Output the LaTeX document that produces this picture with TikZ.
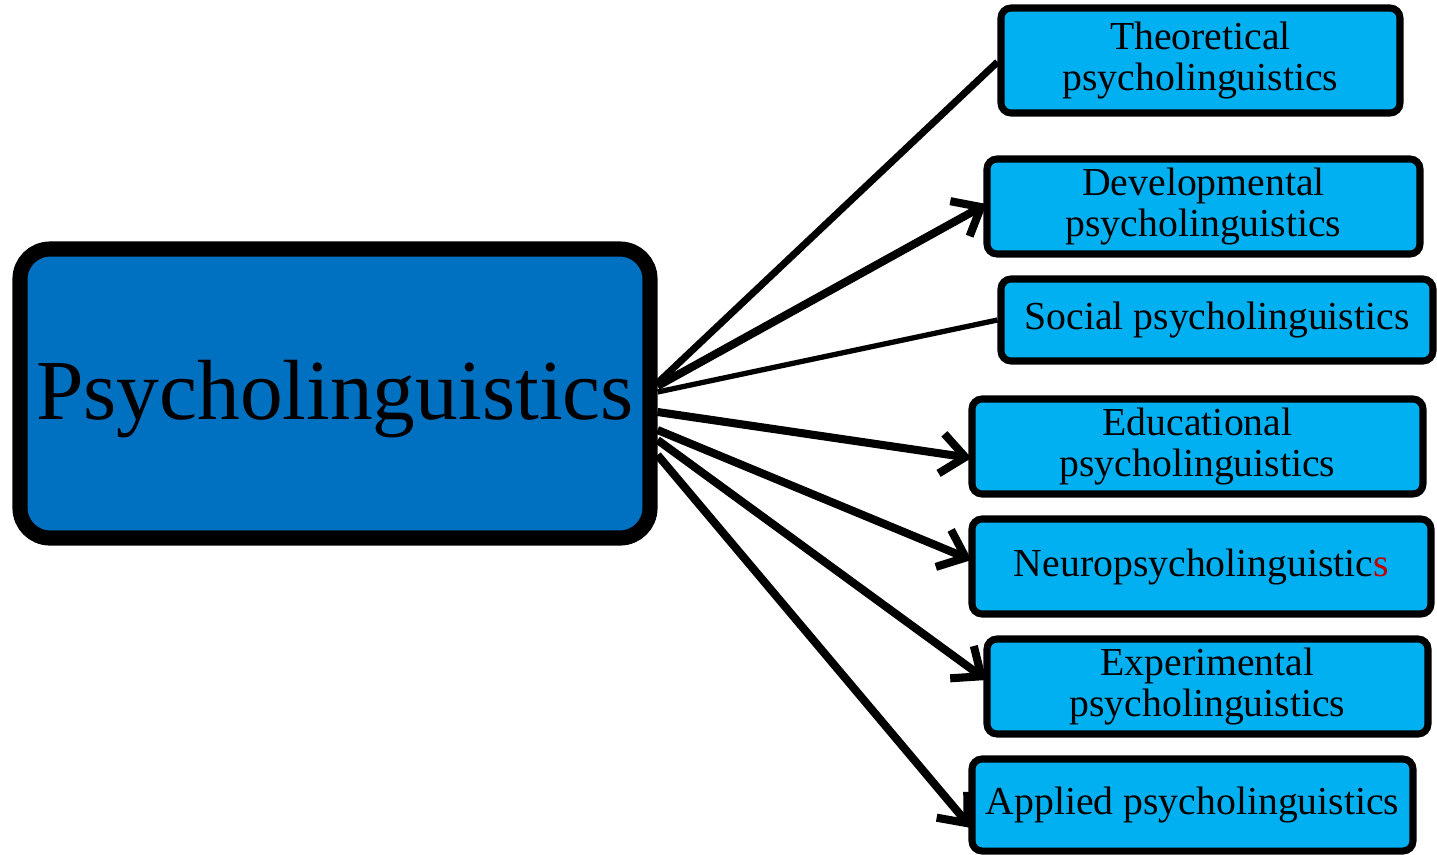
\documentclass[tikz,border=0pt]{standalone}
\usepackage{fontspec}
\setmainfont{Liberation Serif}
\usetikzlibrary{positioning,arrows.meta,calc}
\definecolor{rootblue}{HTML}{0070C0}
\definecolor{leafblue}{HTML}{00B0F0}
\definecolor{darkred}{HTML}{C00000}

\tikzset{
    root/.style={draw=black, fill=rootblue, line width=4.3pt, rounded corners=0.3cm,
        inner sep=0pt, text height=0.7cm, text depth=0.185cm, font=\fontsize{24.3}{26}\selectfont},
    leaf/.style={draw=black, fill=leafblue, line width=2pt, rounded corners=0.1cm,
        inner sep=0pt, align=center, font=\fontsize{11.3}{11.7}\selectfont},
    link/.style={line width=2.3pt, -{Straight Barb[length=0.24cm, width=0.4cm]}},
}

\begin{document}
\begin{tikzpicture}
    \useasboundingbox (0,0) rectangle (14.37,-8.54);

    % Root
    \node[root, minimum width=6.3cm, minimum height=2.89cm] (psy) at (3.35,-3.935) {Psycholinguistics};

    % Branches
    \node[leaf, minimum width=3.99cm, minimum height=1.05cm] (theo) at (12.005,-0.605) {Theoretical\\psycholinguistics};
    \node[leaf, minimum width=4.33cm, minimum height=0.95cm] (devel) at (12.035,-2.065) {Developmental\\psycholinguistics};
    \node[leaf, minimum width=4.32cm, minimum height=0.82cm] (social) at (12.17,-3.2) {Social psycholinguistics};
    \node[leaf, minimum width=4.51cm, minimum height=0.95cm] (educ) at (11.975,-4.465) {Educational\\psycholinguistics};
    \node[leaf, minimum width=4.59cm, minimum height=0.95cm] (neuro) at (12.015,-5.665) {Neuropsycholinguistic\textcolor{darkred}{s}};
    \node[leaf, minimum width=4.41cm, minimum height=0.95cm] (exper) at (12.075,-6.865) {Experimental\\psycholinguistics};
    \node[leaf, minimum width=4.41cm, minimum height=0.92cm] (applied) at (11.925,-8.05) {Applied psycholinguistics};

    % Plain links
    \draw[line width=2pt] ($(psy.east)+(0,0.105)$) -- ($(theo.west)+(0,-0.015)$);
    \draw[line width=1.5pt] ($(psy.east)+(0,0.015)$) -- (social.west);

    % Arrows
    \foreach \dst/\ys/\ye in {devel/0.075/0.025, educ/-0.185/-0.115, neuro/-0.365/0.065, exper/-0.465/0.065, applied/-0.615/-0.23} {
        \draw[link] ($(psy.east)+(0,\ys)$) -- ($(\dst.west)+(0.03,\ye)$);
    }
\end{tikzpicture}
\end{document}
